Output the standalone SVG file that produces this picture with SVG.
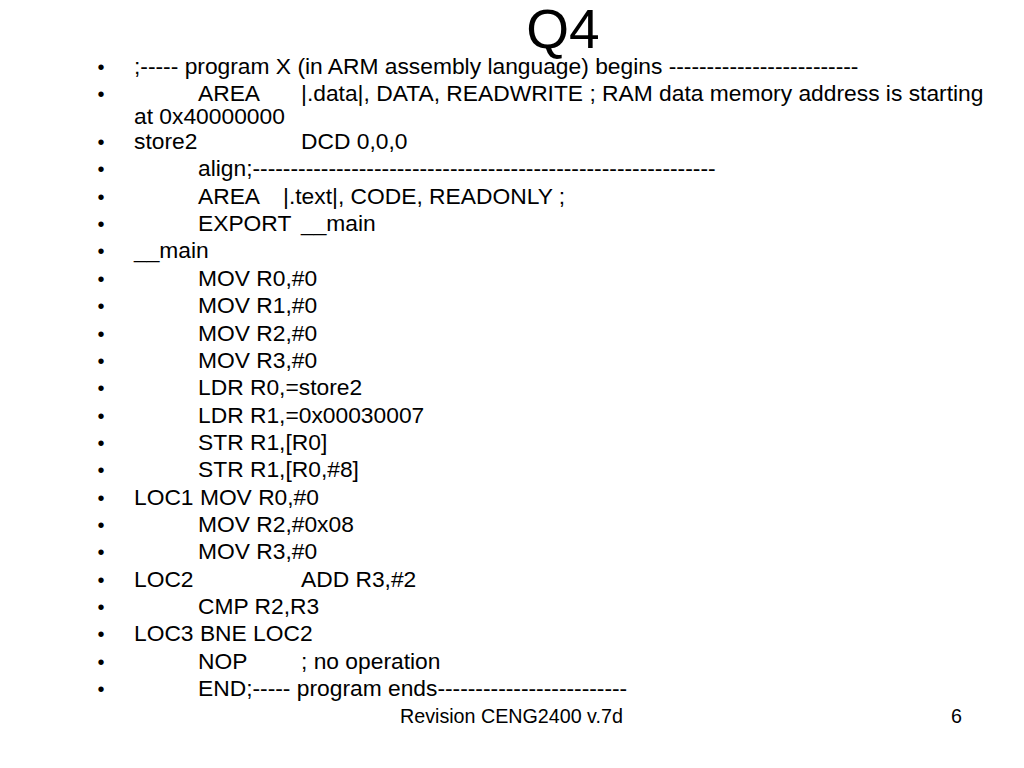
<svg xmlns="http://www.w3.org/2000/svg" width="1024" height="768" viewBox="0 0 1024 768">
<style>
text{font-family:"Liberation Sans",Arial,sans-serif;fill:#000}
.t{font-size:22.8px}
.b{font-size:20px;text-anchor:middle}
.title{font-size:55px;text-anchor:middle}
.f{font-size:19.7px}
</style>
<rect width="1024" height="768" fill="#fff"/>
<text class="title" x="563" y="48">Q4</text>
<g id="bullets">
<text class="b" x="101" y="74">•</text>
<text class="b" x="101" y="101">•</text>
<text class="b" x="101" y="149">•</text>
<text class="b" x="101" y="176.4">•</text>
<text class="b" x="101" y="203.7">•</text>
<text class="b" x="101" y="231">•</text>
<text class="b" x="101" y="258.4">•</text>
<text class="b" x="101" y="285.8">•</text>
<text class="b" x="101" y="313">•</text>
<text class="b" x="101" y="340.5">•</text>
<text class="b" x="101" y="367.8">•</text>
<text class="b" x="101" y="395">•</text>
<text class="b" x="101" y="422.5">•</text>
<text class="b" x="101" y="450">•</text>
<text class="b" x="101" y="477">•</text>
<text class="b" x="101" y="504.6">•</text>
<text class="b" x="101" y="532">•</text>
<text class="b" x="101" y="559.3">•</text>
<text class="b" x="101" y="586.6">•</text>
<text class="b" x="101" y="614">•</text>
<text class="b" x="101" y="641">•</text>
<text class="b" x="101" y="668.7">•</text>
<text class="b" x="101" y="696">•</text>
</g>
<g id="code">
<text class="t" x="134" y="74">;----- program X (in ARM assembly language) begins -------------------------</text>
<text class="t" x="198" y="101">AREA</text>
<text class="t" x="301" y="101">|.data|, DATA, READWRITE ; RAM data memory address is starting</text>
<text class="t" x="134" y="123.5">at 0x40000000</text>
<text class="t" x="134" y="149">store2</text>
<text class="t" x="301" y="149">DCD 0,0,0</text>
<text class="t" x="198" y="176.4">align;-------------------------------------------------------------</text>
<text class="t" x="198" y="203.7">AREA</text>
<text class="t" x="283" y="203.7">|.text|, CODE, READONLY ;</text>
<text class="t" x="198" y="231">EXPORT</text>
<text class="t" x="301" y="231">__main</text>
<text class="t" x="134" y="258.4">__main</text>
<text class="t" x="198" y="285.8">MOV R0,#0</text>
<text class="t" x="198" y="313">MOV R1,#0</text>
<text class="t" x="198" y="340.5">MOV R2,#0</text>
<text class="t" x="198" y="367.8">MOV R3,#0</text>
<text class="t" x="198" y="395">LDR R0,=store2</text>
<text class="t" x="198" y="422.5">LDR R1,=0x00030007</text>
<text class="t" x="198" y="450">STR R1,[R0]</text>
<text class="t" x="198" y="477">STR R1,[R0,#8]</text>
<text class="t" x="134" y="504.6">LOC1 MOV R0,#0</text>
<text class="t" x="198" y="532">MOV R2,#0x08</text>
<text class="t" x="198" y="559.3">MOV R3,#0</text>
<text class="t" x="134" y="586.6">LOC2</text>
<text class="t" x="301" y="586.6">ADD R3,#2</text>
<text class="t" x="198" y="614">CMP R2,R3</text>
<text class="t" x="134" y="641">LOC3 BNE LOC2</text>
<text class="t" x="198" y="668.7">NOP</text>
<text class="t" x="301" y="668.7">; no operation</text>
<text class="t" x="198" y="696">END;----- program ends-------------------------</text>
</g>
<g id="footer">
<text class="f" x="400" y="723">Revision CENG2400 v.7d</text>
<text class="f" x="951" y="723">6</text>
</g>
</svg>
